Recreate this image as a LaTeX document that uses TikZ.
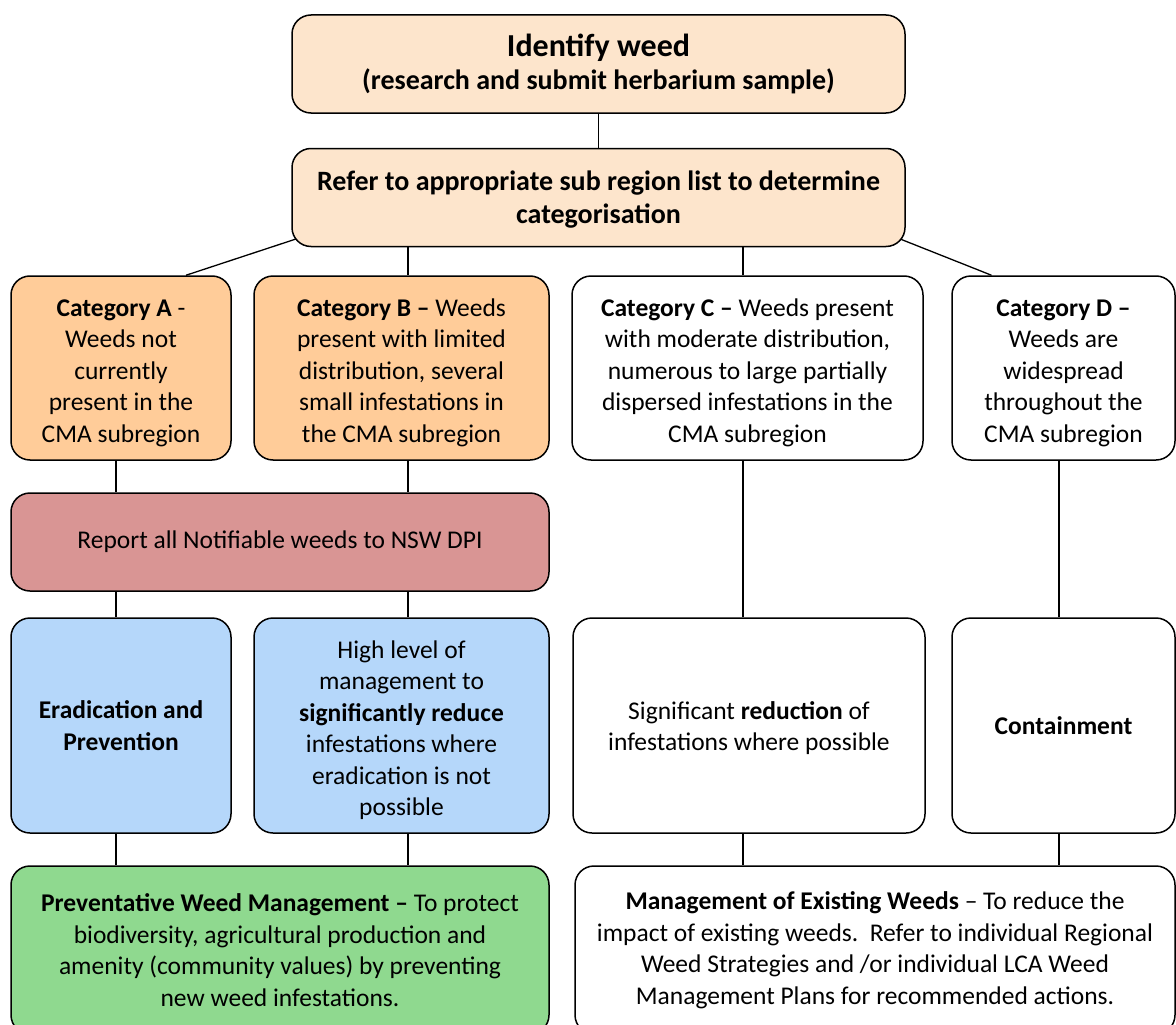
\documentclass[tikz,border=0pt]{standalone}
\usepackage{fontspec}
\setmainfont{Carlito}
\usetikzlibrary{calc,backgrounds}
\definecolor{peach}{HTML}{FDE5CC}
\definecolor{catorange}{HTML}{FFCC99}
\definecolor{reportred}{HTML}{D99594}
\definecolor{lightblue}{HTML}{B5D7FA}
\definecolor{lightgreen}{HTML}{8FD98F}
\newcommand{\dropstrut}{\rule{0pt}{27pt}}
\tikzset{
  box/.style={draw=black, line width=1.5pt, rounded corners=19pt, align=center,
    inner sep=0pt, font=\fontsize{25.5}{31.5}\selectfont},
  link/.style={draw=black, line width=1.3pt},
}
\begin{document}
\begin{tikzpicture}[x=1pt,y=-1pt]
\clip (0,0) rectangle (1176,1025);
% line x positions
\coordinate (lA) at (116,0);
\coordinate (lB) at (408,0);
\coordinate (lC) at (743,0);
\coordinate (lD) at (1059,0);

\node[box, fill=peach, minimum width=613pt, minimum height=98pt] (id) at (598.5,64)
  {{\fontsize{32}{36}\selectfont\bfseries Identify weed}\\[2pt]
   {\fontsize{28}{33}\selectfont\bfseries (research and submit herbarium sample)}};
\node[box, fill=peach, minimum width=613pt, minimum height=98pt, font=\fontsize{28}{33.5}\selectfont\bfseries] (refer) at (598.5,197.5)
  {\rule{0pt}{24pt}Refer to appropriate sub region list to determine\\categorisation};

\node[box, fill=catorange, minimum width=220pt, minimum height=184pt] (catA) at (121,368)
  {\dropstrut\textbf{Category A} -\\Weeds not\\currently\\present in the\\CMA subregion};
\node[box, fill=catorange, minimum width=295pt, minimum height=184pt] (catB) at (401.5,368)
  {\dropstrut\textbf{Category B –} Weeds\\present with limited\\distribution, several\\small infestations in\\the CMA subregion};
\node[box, fill=white, minimum width=351pt, minimum height=184pt] (catC) at (747.5,368)
  {\dropstrut\textbf{Category C –} Weeds present\\with moderate distribution,\\numerous to large partially\\dispersed infestations in the\\CMA subregion};
\node[box, fill=white, minimum width=223pt, minimum height=184pt] (catD) at (1063.5,368)
  {\dropstrut\textbf{Category D –}\\Weeds are\\widespread\\throughout the\\CMA subregion};

\node[box, fill=reportred, minimum width=538pt, minimum height=98pt] (report) at (280,542)
  {Report all Notifiable weeds to NSW DPI};

\node[box, fill=lightblue, minimum width=220pt, minimum height=215pt, font=\fontsize{25.5}{32}\selectfont\bfseries] (erad) at (121,725.5)
  {Eradication and\\Prevention};
\node[box, fill=lightblue, minimum width=295pt, minimum height=215pt, font=\fontsize{25.5}{31.5}\selectfont] (high) at (401.5,725.5)
  {\dropstrut High level of\\management to\\\textbf{significantly reduce}\\infestations where\\eradication is not\\possible};
\node[box, fill=white, minimum width=352pt, minimum height=215pt] (sig) at (749,725.5)
  {\rule{0pt}{23pt}Significant \textbf{reduction} of\\infestations where possible};
\node[box, fill=white, minimum width=223pt, minimum height=215pt, font=\fontsize{25.5}{31.5}\selectfont\bfseries] (cont) at (1063.5,725.5)
  {Containment};

\node[box, fill=lightgreen, minimum width=538pt, minimum height=168pt] (prev) at (280,950)
  {\textbf{Preventative Weed Management –} To protect\\biodiversity, agricultural production and\\amenity (community values) by preventing\\new weed infestations.};
\node[box, fill=white, minimum width=600pt, minimum height=168pt] (mgmt) at (875,950)
  {\textbf{Management of Existing Weeds} – To reduce the\\impact of existing weeds.\ \ Refer to individual Regional\\Weed Strategies and /or individual LCA Weed\\Management Plans for recommended actions.};

\begin{scope}[on background layer]
\fill[white] (0,0) rectangle (1176,1025);
\draw[link] (id.south) -- (refer.north);
\draw[link] ($(refer.south west)+(10,-10)$) -- ($(catA.north)+(65,0)$);
\draw[link] ($(refer.south east)+(-10,-10)$) -- ($(catD.north)+(-72,0)$);
\draw[link] (refer.south -| lB) -- (catB.north -| lB);
\draw[link] (refer.south -| lC) -- (catC.north -| lC);
\draw[link] (catA.south -| lA) -- (report.north -| lA);
\draw[link] (catB.south -| lB) -- (report.north -| lB);
\draw[link] (report.south -| lA) -- (erad.north -| lA);
\draw[link] (report.south -| lB) -- (high.north -| lB);
\draw[link] (erad.south -| lA) -- (prev.north -| lA);
\draw[link] (high.south -| lB) -- (prev.north -| lB);
\draw[link] (catC.south -| lC) -- (sig.north -| lC);
\draw[link] (catD.south -| lD) -- (cont.north -| lD);
\draw[link] (sig.south -| lC) -- (mgmt.north -| lC);
\draw[link] (cont.south -| lD) -- (mgmt.north -| lD);
\end{scope}
\end{tikzpicture}
\end{document}
